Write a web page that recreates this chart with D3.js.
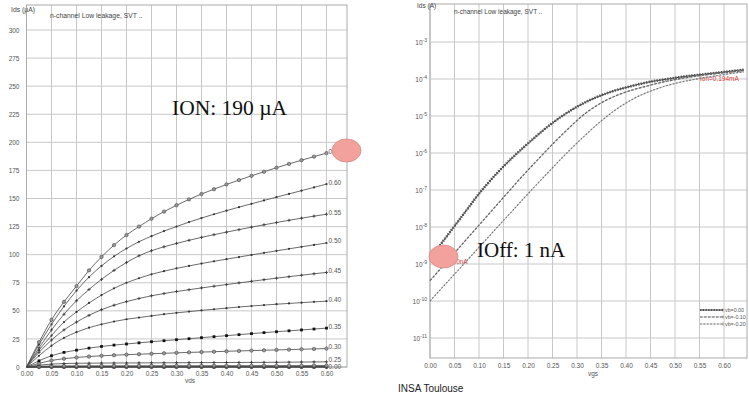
<!DOCTYPE html>
<html>
<head>
<meta charset="utf-8">
<script src="https://cdn.jsdelivr.net/npm/d3@7"></script>
<style>
body { margin: 0; background: #fff; }
text { font-family: Arial, "Liberation Sans", sans-serif; }
text.serif { font-family: "Liberation Serif", "DejaVu Serif", serif; }
</style>
</head>
<body>
<svg id="chart" width="749" height="398"></svg>
<script>
// ---- left chart: Ids(vds) for each vgs, in uA ----
var vds = [0, 0.025, 0.05, 0.075, 0.1, 0.125, 0.15, 0.175, 0.2, 0.225, 0.25, 0.275, 0.3,
           0.325, 0.35, 0.375, 0.4, 0.425, 0.45, 0.475, 0.5, 0.525, 0.55, 0.575, 0.6];
var vgsLabels = ["0.00", "0.05", "0.10", "0.15", "0.20", "0.25", "0.30", "0.35",
                 "0.40", "0.45", "0.50", "0.55", "0.60", "0.65"];
var idsByVgs = [
  [0,0.003,0.004,0.005,0.005,0.005,0.005,0.005,0.005,0.005,0.005,0.005,0.005,0.005,0.005,0.005,0.005,0.005,0.005,0.005,0.005,0.005,0.006,0.006,0.006],
  [0,0.01,0.015,0.017,0.018,0.018,0.019,0.019,0.019,0.019,0.02,0.02,0.02,0.02,0.02,0.02,0.02,0.021,0.021,0.021,0.021,0.021,0.021,0.022,0.022],
  [0,0.04,0.06,0.07,0.072,0.074,0.075,0.076,0.077,0.078,0.078,0.079,0.08,0.08,0.081,0.081,0.082,0.082,0.083,0.083,0.084,0.084,0.085,0.085,0.086],
  [0,0.15,0.22,0.25,0.27,0.28,0.29,0.29,0.3,0.3,0.3,0.31,0.31,0.31,0.31,0.32,0.32,0.32,0.32,0.33,0.33,0.33,0.33,0.34,0.34],
  [0,0.6,0.9,1.0,1.02,1.05,1.06,1.08,1.09,1.1,1.11,1.12,1.13,1.14,1.15,1.16,1.17,1.18,1.19,1.2,1.21,1.23,1.25,1.27,1.3],
  [0,1.6,2.6,3.1,3.3,3.4,3.5,3.55,3.6,3.65,3.7,3.75,3.8,3.85,3.9,3.95,4.0,4.05,4.1,4.15,4.2,4.3,4.4,4.5,4.6],
  [0,3.2,5.8,7.4,8.5,9.3,10,10.5,11,11.4,11.8,12.2,12.6,13,13.3,13.6,14,14.3,14.6,14.9,15.2,15.5,15.8,16.1,16.4],
  [0,5.5,10,13,15,16.8,18.3,19.5,20.5,21.5,22.5,23.4,24.3,25.2,26.1,27,27.9,28.8,29.7,30.6,31.4,32.2,33,33.8,34.6],
  [0,10,19,26,31,35,38,40.5,42.5,44,45.5,47,48.2,49.3,50.4,51.4,52.4,53.4,54.3,55.1,55.9,56.6,57.3,58,58.6],
  [0,13,24,33,40,46,51,55,58.2,61,63.4,65.4,67.2,68.8,70.4,71.9,73.4,74.9,76.3,77.7,79.1,80.4,81.7,83,84.2],
  [0,15,28,40,49,57,64,70,75,79,82.5,85.3,87.8,90,92.1,94.1,96,97.9,99.8,101.6,103.4,105.2,107,108.7,110.4],
  [0,17,33,47,59,69,78,86,93,99,103.5,107,110,112.8,115.4,117.8,120.1,122.3,124.5,126.6,128.6,130.6,132.5,134.3,136],
  [0,20,38,54,68,80,90,98.5,105.5,111.5,116.5,121,125,129,132.6,136,139.2,142.3,145.3,148.3,151.2,154.1,157,159.9,162.8],
  [0,22,42,58,72,86,98,108.5,117.5,125,132,138.3,144,149.2,154,158.3,162.5,166.4,170.2,173.8,177.4,180.8,184.1,187.3,190.4]
];
var shownLabels = ["0.00", "0.25", "0.30", "0.35", "0.40", "0.45", "0.50", "0.55", "0.60", "0.65"];
var markerKinds = ["square", "circle", "plus", "dot", "circle", "plus", "circle", "square",
                   "dot", "plus", "dot", "plus", "dot", "circle"];
var xTicks = [0, 0.05, 0.1, 0.15, 0.2, 0.25, 0.3, 0.35, 0.4, 0.45, 0.5, 0.55, 0.6];
var yTicksLeft = [0, 25, 50, 75, 100, 125, 150, 175, 200, 225, 250, 275, 300];

// ---- right chart: log10 Ids(A) vs vgs, for three vb ----
var vgs = [0, 0.02, 0.04, 0.06, 0.08, 0.1, 0.12, 0.14, 0.16, 0.18, 0.2, 0.22, 0.24, 0.26, 0.28, 0.3,
           0.32, 0.34, 0.36, 0.38, 0.4, 0.42, 0.44, 0.46, 0.48, 0.5, 0.52, 0.54, 0.56, 0.58, 0.6, 0.62, 0.64];
var logIdsVb0 = [-8.85,-8.5,-8.15,-7.8,-7.45,-7.1,-6.79,-6.5,-6.23,-5.98,-5.74,-5.51,-5.29,-5.09,-4.91,-4.75,
                 -4.61,-4.49,-4.39,-4.3,-4.23,-4.16,-4.1,-4.05,-4.01,-3.97,-3.93,-3.9,-3.87,-3.84,-3.81,-3.78,-3.75];
var logIdsVb1 = [-9.45,-9.15,-8.85,-8.55,-8.25,-7.95,-7.65,-7.35,-7.05,-6.75,-6.46,-6.18,-5.9,-5.63,-5.37,-5.12,
                 -4.9,-4.72,-4.57,-4.45,-4.35,-4.27,-4.2,-4.13,-4.07,-4.02,-3.97,-3.93,-3.89,-3.86,-3.83,-3.8,-3.77];
var logIdsVb2 = [-10,-9.71,-9.42,-9.13,-8.84,-8.55,-8.26,-7.97,-7.68,-7.39,-7.1,-6.82,-6.54,-6.26,-5.99,-5.73,
                 -5.48,-5.24,-5.02,-4.82,-4.65,-4.5,-4.38,-4.28,-4.19,-4.12,-4.06,-4.01,-3.96,-3.92,-3.88,-3.84,-3.81];
var vbNames = ["vb=0.00", "vb=-0.10", "vb=-0.20"];
var decades = [-11, -10, -9, -8, -7, -6, -5, -4, -3];

var svg = d3.select("#chart");
var gridColor = "#c8c8c8";
var tickColor = "#555";

// ================= left chart =================
var xL = d3.scaleLinear().domain([0, 0.6]).range([26.5, 326.5]);
var yL = d3.scaleLinear().domain([0, 300]).range([367, 30]);
var left = svg.append("g");
var lRight = xL(0.641), lTop = 5;

left.selectAll("line.vg").data(xTicks).enter().append("line")
    .attr("x1", function (d) { return xL(d); }).attr("x2", function (d) { return xL(d); })
    .attr("y1", lTop).attr("y2", yL(0))
    .attr("stroke", gridColor).attr("stroke-width", 1);
left.selectAll("line.hg").data(yTicksLeft).enter().append("line")
    .attr("x1", xL(0)).attr("x2", lRight)
    .attr("y1", function (d) { return yL(d); }).attr("y2", function (d) { return yL(d); })
    .attr("stroke", gridColor).attr("stroke-width", 1);
left.append("rect").attr("x", xL(0)).attr("y", lTop).attr("width", lRight - xL(0)).attr("height", yL(0) - lTop)
    .attr("fill", "none").attr("stroke", "#aaa").attr("stroke-width", 1);

var axYL = left.append("g").attr("transform", "translate(" + xL(0) + ",0)")
    .call(d3.axisLeft(yL).tickValues(yTicksLeft).tickSize(0).tickPadding(7));
var axXL = left.append("g").attr("transform", "translate(0," + yL(0) + ")")
    .call(d3.axisBottom(xL).tickValues(xTicks).tickFormat(d3.format(".2f")).tickSize(0).tickPadding(4));
[axYL, axXL].forEach(function (a) {
    a.select(".domain").remove();
    a.selectAll("text").attr("fill", tickColor).style("font-size", "6.5px").style("font-family", "Arial");
});

left.append("text").attr("x", 11).attr("y", 12).attr("font-size", 6.8).attr("fill", "#444").text("Ids (µA)");
left.append("text").attr("x", 50).attr("y", 17.5).attr("font-size", 6.8).attr("fill", "#444").text("n-channel Low leakage, SVT ..");
left.append("text").attr("x", 190).attr("y", 383).attr("font-size", 6.5).attr("fill", tickColor)
    .attr("text-anchor", "middle").text("vds");

var lineL = d3.line().x(function (d) { return xL(d[0]); }).y(function (d) { return yL(d[1]); })
    .curve(d3.curveMonotoneX);

function drawMarker(g, kind, x, y) {
    if (kind === "circle") {
        g.append("circle").attr("cx", x).attr("cy", y).attr("r", 1.7)
            .attr("fill", "#9a9a9a").attr("stroke", "#444").attr("stroke-width", 0.6);
    } else if (kind === "dot") {
        g.append("circle").attr("cx", x).attr("cy", y).attr("r", 1.1).attr("fill", "#333");
    } else if (kind === "square") {
        g.append("rect").attr("x", x - 1.4).attr("y", y - 1.4).attr("width", 2.8).attr("height", 2.8).attr("fill", "#111");
    } else {
        g.append("path").attr("d", "M" + (x - 1.6) + "," + y + "h3.2M" + x + "," + (y - 1.6) + "v3.2")
            .attr("stroke", "#333").attr("stroke-width", 0.8);
    }
}

idsByVgs.forEach(function (ids, i) {
    var pts = vds.map(function (v, k) { return [v, ids[k]]; });
    var g = left.append("g");
    g.append("path").datum(pts).attr("d", lineL).attr("fill", "none")
        .attr("stroke", "#444").attr("stroke-width", 0.8);
    pts.forEach(function (p, k) {
        if (k > 0) drawMarker(g, markerKinds[i], xL(p[0]), yL(p[1]));
    });
    if (shownLabels.indexOf(vgsLabels[i]) >= 0) {
        var last = pts[pts.length - 1];
        left.append("text").attr("x", xL(last[0]) + 2).attr("y", yL(last[1]) + (i === 0 ? 2 : 0.5))
            .attr("font-size", 6.5).attr("fill", tickColor).text(vgsLabels[i]);
    }
});

// ================= right chart =================
var xR = d3.scaleLinear().domain([0, 0.6]).range([430, 724]);
var yR = d3.scaleLog().domain([1e-11, 1e-3]).range([338, 42]);
var right = svg.append("g");
var rLeft = xR(0), rRight = 747, rTop = 4, rBottom = yR(Math.pow(10, -11.54));

right.selectAll("line.vg").data(xTicks).enter().append("line")
    .attr("x1", function (d) { return xR(d); }).attr("x2", function (d) { return xR(d); })
    .attr("y1", rTop).attr("y2", rBottom)
    .attr("stroke", gridColor).attr("stroke-width", 1);
right.selectAll("line.hg").data(decades).enter().append("line")
    .attr("x1", rLeft).attr("x2", rRight)
    .attr("y1", function (d) { return yR(Math.pow(10, d)); }).attr("y2", function (d) { return yR(Math.pow(10, d)); })
    .attr("stroke", gridColor).attr("stroke-width", 1);
right.append("rect").attr("x", rLeft).attr("y", rTop).attr("width", rRight - rLeft).attr("height", rBottom - rTop)
    .attr("fill", "none").attr("stroke", "#aaa").attr("stroke-width", 1);

var axXR = right.append("g").attr("transform", "translate(0," + rBottom + ")")
    .call(d3.axisBottom(xR).tickValues(xTicks).tickFormat(d3.format(".2f")).tickSize(0).tickPadding(5));
axXR.select(".domain").remove();
axXR.selectAll("text").attr("fill", tickColor).style("font-size", "6.5px").style("font-family", "Arial");

decades.forEach(function (d) {
    var t = right.append("text").attr("x", 427).attr("y", yR(Math.pow(10, d)) + 3)
        .attr("text-anchor", "end").attr("fill", tickColor).attr("font-size", 6.5);
    t.append("tspan").text("10");
    t.append("tspan").attr("dy", -3).attr("font-size", 5).text(String(d));
});

right.append("text").attr("x", 417).attr("y", 8).attr("font-size", 6.5).attr("fill", "#444").text("Ids (A)");
right.append("text").attr("x", 454).attr("y", 13.5).attr("font-size", 6.5).attr("fill", "#444").text("n-channel Low leakage, SVT ..");
right.append("text").attr("x", 593).attr("y", 376).attr("font-size", 6.5).attr("fill", tickColor)
    .attr("text-anchor", "middle").text("vgs");

right.append("text").attr("x", 700).attr("y", 81).attr("font-size", 6.5).attr("fill", "#e23a3a").text("Ion=0.194mA");
right.append("text").attr("x", 438).attr("y", 264).attr("font-size", 6.5).attr("fill", "#e23a3a").text("Ioff=1.0nA");

var lineR = d3.line().x(function (d) { return xR(d[0]); }).y(function (d) { return yR(Math.pow(10, d[1])); })
    .curve(d3.curveMonotoneX);
var rStyles = [
    { under: "#444", underW: 1, top: "#555", topW: 2.6, dash: "1.4,1.3" },
    { under: "#999", underW: 0.5, top: "#666", topW: 1.3, dash: "2.6,1.4" },
    { under: "#999", underW: 0.5, top: "#777", topW: 1.2, dash: "1.8,1.6" }
];
[logIdsVb0, logIdsVb1, logIdsVb2].forEach(function (vals, i) {
    var pts = vgs.map(function (v, k) { return [v, vals[k]]; });
    var s = rStyles[i];
    right.append("path").datum(pts).attr("d", lineR).attr("fill", "none")
        .attr("stroke", s.under).attr("stroke-width", s.underW);
    right.append("path").datum(pts).attr("d", lineR).attr("fill", "none")
        .attr("stroke", s.top).attr("stroke-width", s.topW).attr("stroke-dasharray", s.dash);

    var ly = 310 + i * 7;
    right.append("line").attr("x1", 700).attr("x2", 723).attr("y1", ly).attr("y2", ly)
        .attr("stroke", s.under).attr("stroke-width", s.underW);
    right.append("line").attr("x1", 700).attr("x2", 723).attr("y1", ly).attr("y2", ly)
        .attr("stroke", s.top).attr("stroke-width", s.topW * 0.8).attr("stroke-dasharray", s.dash);
    right.append("line").attr("x1", 723).attr("x2", 723).attr("y1", ly - 1.5).attr("y2", ly + 1.5)
        .attr("stroke", "#444").attr("stroke-width", 0.6);
    right.append("text").attr("x", 725).attr("y", ly + 2).attr("font-size", 5.3).attr("fill", tickColor).text(vbNames[i]);
});

// ================= annotations =================
svg.append("text").attr("class", "serif").attr("x", 172).attr("y", 115)
    .attr("font-size", 21.5).attr("fill", "#111").text("ION: 190 µA");
svg.append("text").attr("class", "serif").attr("x", 477).attr("y", 257)
    .attr("font-size", 21).attr("fill", "#111").text("IOff: 1 nA");

svg.append("ellipse").attr("cx", 346.5).attr("cy", 150.5).attr("rx", 14.5).attr("ry", 11.5)
    .attr("fill", "#f2a19d").attr("stroke", "#d98a86").attr("stroke-width", 0.8);
svg.append("ellipse").attr("cx", 443.5).attr("cy", 256.5).attr("rx", 14.5).attr("ry", 11.5)
    .attr("fill", "#f2a19d").attr("stroke", "#d98a86").attr("stroke-width", 0.8);

svg.append("text").attr("x", 398).attr("y", 392).attr("font-size", 10).attr("fill", "#222").text("INSA Toulouse");
</script>
</body>
</html>
